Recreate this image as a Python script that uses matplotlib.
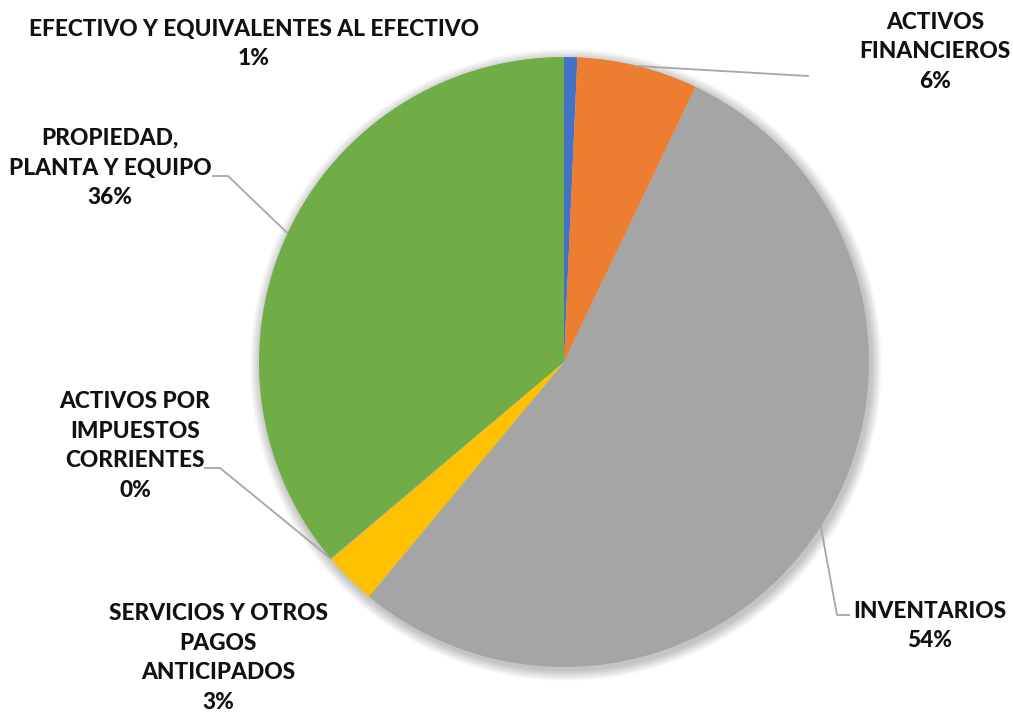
import numpy as np
import matplotlib.pyplot as plt
from matplotlib.patches import Circle

# data
categorias = ['EFECTIVO Y EQUIVALENTES AL EFECTIVO',
              'ACTIVOS\nFINANCIEROS',
              'INVENTARIOS',
              'SERVICIOS Y OTROS\nPAGOS\nANTICIPADOS',
              'ACTIVOS POR\nIMPUESTOS\nCORRIENTES',
              'PROPIEDAD,\nPLANTA Y EQUIPO']
valores = [0.7, 6.4, 53.9, 2.8, 0.04, 36.1]
colores = ['#4472C4', '#ED7D31', '#A5A5A5', '#FFC000', '#5B9BD5', '#70AD47']

plt.rcParams['font.family'] = ['Lato', 'DejaVu Sans']

W, H = 1013, 719
fig = plt.figure(figsize=(W / 100, H / 100), dpi=100)
ax = fig.add_axes([0, 0, 1, 1])

cx, cy, r = 564, H - 362, 305

# soft shadow behind the pie
for k in range(12):
    ax.add_patch(Circle((cx + 2, cy - 3), r + 1 + k * 0.9, color='black',
                        alpha=0.018, lw=0, zorder=0))

ax.pie(valores, colors=colores, startangle=90, counterclock=False,
       center=(cx, cy), radius=r, wedgeprops=dict(linewidth=0),
       frame=True)
ax.set_xlim(0, W)
ax.set_ylim(0, H)
ax.set_aspect('equal')
ax.axis('off')

total = sum(valores)
acum = np.cumsum([0] + valores[:-1])
medios = 90 - 360 * (acum + np.array(valores) / 2) / total

# label placement (pixel coords from top-left): text center, leader elbow points
etiquetas = [
    ((254, 44), None),
    ((935, 52), [(808, 76)]),
    ((930, 626), [(837, 615), (849, 615)]),
    ((218, 658), None),
    ((135, 446), [(220, 468), (205, 468)]),
    ((110, 168), [(228, 176), (213, 176)]),
]

for i, (nombre, v) in enumerate(zip(categorias, valores)):
    (tx, ty), guia = etiquetas[i]
    pct = round(v / total * 100)
    ax.text(tx, H - ty, f'{nombre}\n{pct}%', ha='center', va='center',
            fontsize=16.3, fontweight='black', color='#111111', linespacing=1.5)
    if guia:
        a = np.radians(medios[i])
        xs = [cx + r * np.cos(a)] + [p[0] for p in guia]
        ys = [cy + r * np.sin(a)] + [H - p[1] for p in guia]
        ax.plot(xs, ys, color='#A6A6A6', lw=1.3, zorder=5)

fig.savefig('out.png', dpi=100)
